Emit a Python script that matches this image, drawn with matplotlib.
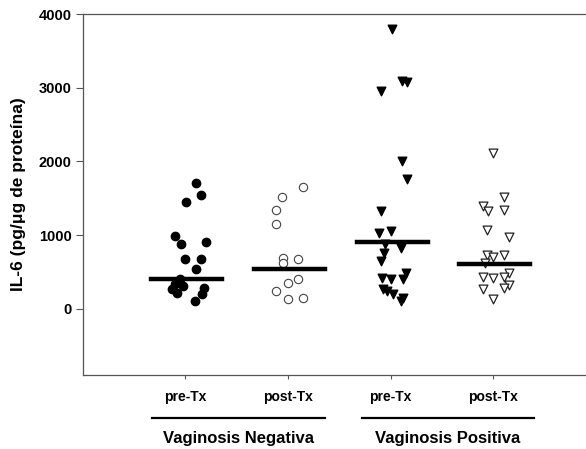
import matplotlib
matplotlib.use("Agg")
import matplotlib.pyplot as plt
import numpy as np

plt.rcParams['font.family'] = ['Liberation Sans', 'DejaVu Sans']
plt.rcParams['font.weight'] = 'bold'

# IL-6 values (pg/ug de proteina)
vn_pre = [1700, 1537, 1442, 993, 884, 912, 680, 680, 544, 408, 340, 313, 218, 286, 204, 109, 272]
vn_post = [1646, 1510, 1333, 1143, 694, 680, 626, 408, 354, 245, 136, 150]
vp_pre = [3796, 3088, 3075, 2952, 2000, 1755, 1320, 1034, 1061, 884, 830, 762, 653,
          422, 408, 408, 490, 245, 204, 109, 150, 272]
vp_post = [2109, 1510, 1388, 1320, 1333, 1075, 980, 735, 707, 735, 626, 490, 435,
           422, 435, 327, 272, 286, 136]
# horizontal lines (central value) per group
centros = [408, 544, 912, 612]

# horizontal scatter of the points around each category
dx_vn_pre = [0.11, 0.16, 0.01, -0.10, -0.04, 0.21, 0.0, 0.16, 0.11, -0.05, -0.10,
             -0.02, -0.08, 0.19, 0.17, 0.10, -0.12]
dx_vn_post = [0.15, -0.06, -0.11, -0.11, -0.05, 0.10, -0.05, 0.10, 0.0, -0.11, 0.0, 0.15]
dx_vp_pre = [0.01, 0.11, 0.16, -0.09, 0.11, 0.16, -0.09, -0.11, 0.0, -0.05, 0.10,
             -0.06, -0.09, -0.08, 0.0, 0.12, 0.15, -0.03, 0.02, 0.10, 0.12, -0.07]
dx_vp_post = [0, 0.10, -0.10, -0.05, 0.10, -0.06, 0.15, -0.06, 0, 0.10, -0.08, 0.15,
              -0.10, 0, 0.10, 0.15, -0.10, 0.10, 0]

categorias = ["pre-Tx", "post-Tx", "pre-Tx", "post-Tx"]
grupos = ["Vaginosis Negativa", "Vaginosis Positiva"]

fig = plt.figure(figsize=(5.86, 4.49), dpi=100)
ax = fig.add_axes([0.1416, 0.1648, 0.8584, 0.8040])

ax.scatter(1 + np.array(dx_vn_pre), vn_pre, s=36, marker='o', color='black', zorder=3)
ax.scatter(2 + np.array(dx_vn_post), vn_post, s=36, marker='o', facecolor='white',
           edgecolor='#444444', linewidth=0.8, zorder=3)
ax.scatter(3 + np.array(dx_vp_pre), vp_pre, s=38, marker='v', color='black', zorder=3)
ax.scatter(4 + np.array(dx_vp_post), vp_post, s=40, marker='v', facecolor='white',
           edgecolor='#222222', linewidth=0.9, zorder=3)

for i, c in enumerate(centros):
    ax.plot([i + 1 - 0.33, i + 1 + 0.36], [c, c], color='black', linewidth=3.2, zorder=4)

ax.set_xlim(0.01, 4.9)
ax.set_ylim(-900, 4000)
ax.set_yticks([0, 1000, 2000, 3000, 4000])
ax.set_xticks([1, 2, 3, 4])
ax.set_xticklabels(categorias, fontsize=10, fontweight='bold')
ax.tick_params(axis='y', labelsize=10.5, length=5, width=0.8, color='#555555', pad=3)
ax.tick_params(axis='x', length=3, width=0.8, color='#555555', pad=8)
ax.set_ylabel("IL-6 (pg/\u03bcg de prote\u00edna)", fontsize=12.5, fontweight='bold', labelpad=9)

ax.spines['right'].set_visible(False)
for s in ['left', 'top', 'bottom']:
    ax.spines[s].set_color('#555555')
    ax.spines[s].set_linewidth(0.9)

tr = ax.get_xaxis_transform()
for xa, xb, nombre in [(0.68, 2.36, grupos[0]), (2.72, 4.39, grupos[1])]:
    ax.plot([xa, xb], [-0.119, -0.119], transform=tr, color='black', linewidth=1.6, clip_on=False)
    ax.text((xa + xb) / 2, -0.175, nombre, transform=tr, ha='center', va='center',
            fontsize=12, fontweight='bold')

fig.savefig("out.png", dpi=100)
